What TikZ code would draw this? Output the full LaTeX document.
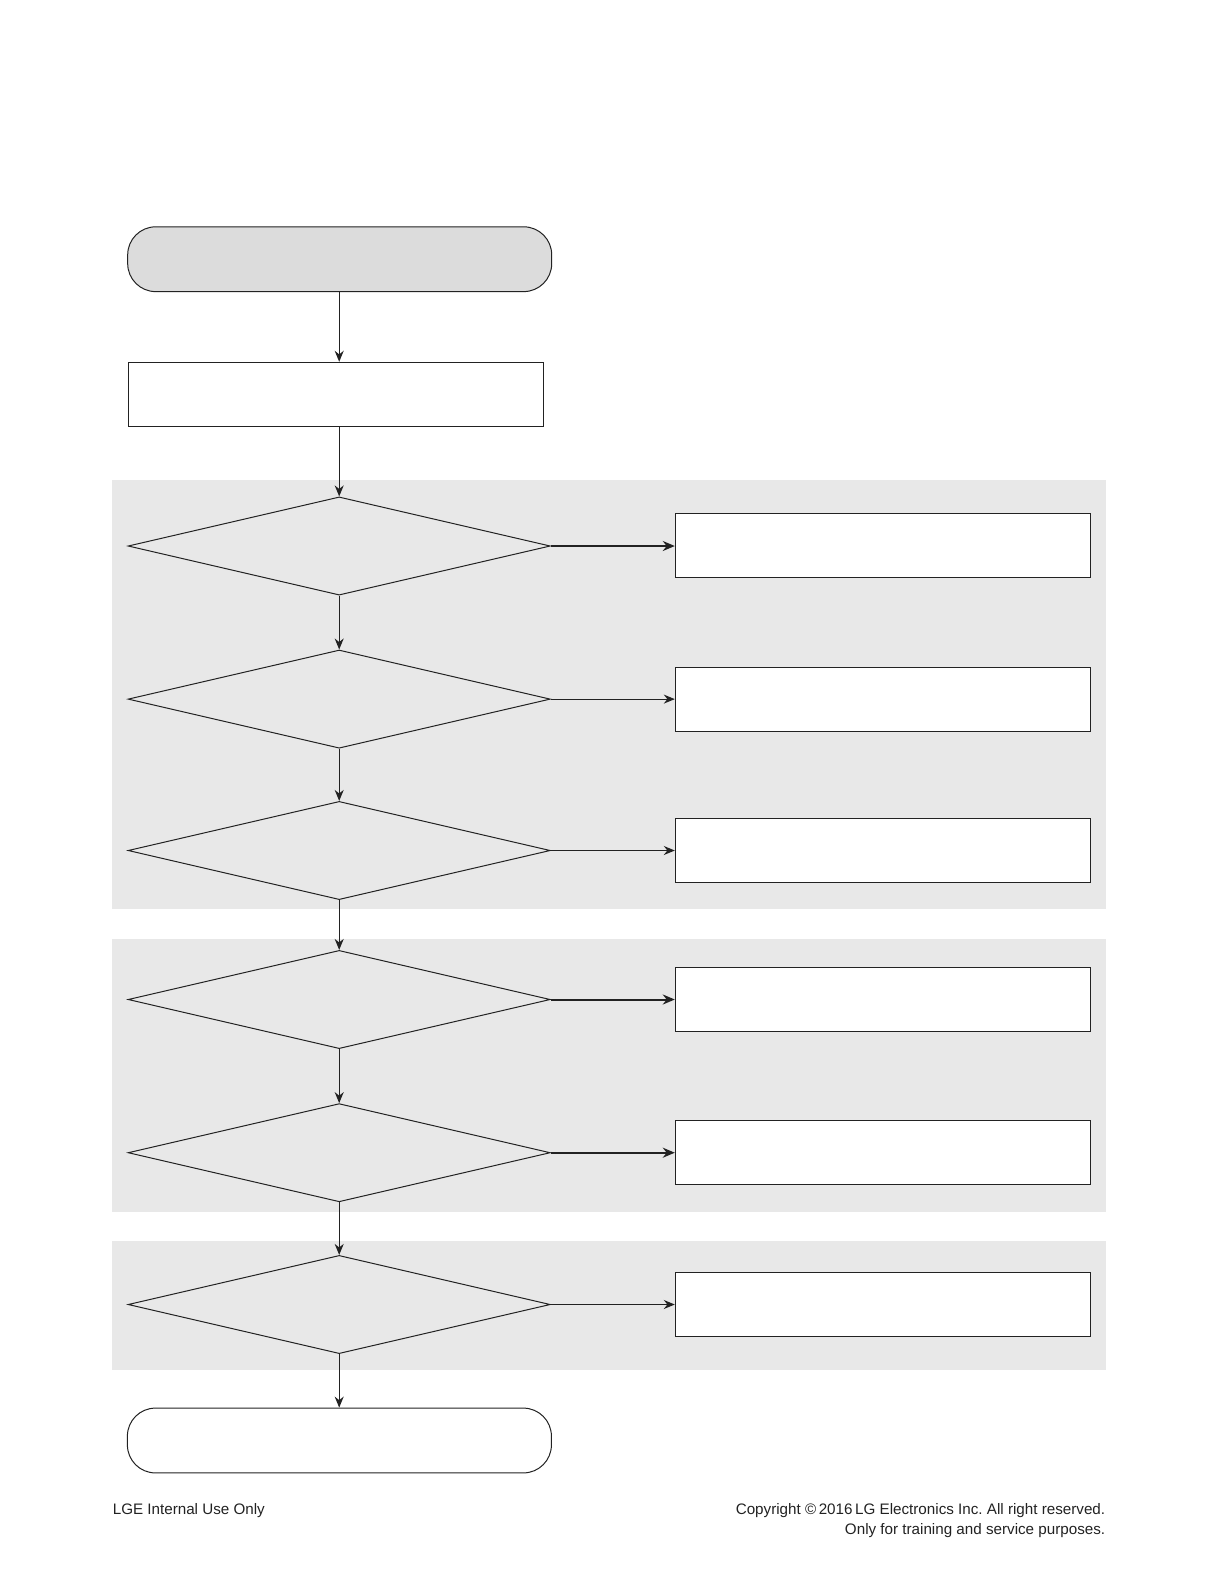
\documentclass[tikz,border=0pt]{standalone}
\usepackage{fontspec}
\setmainfont{Liberation Sans}
\usetikzlibrary{shapes.geometric,arrows.meta}
\definecolor{band}{HTML}{E8E8E8}
\definecolor{startfill}{HTML}{DCDCDC}
\definecolor{ink}{HTML}{222222}
\tikzset{
  box/.style={draw=ink,line width=0.5pt,fill=white,rectangle,inner sep=0pt,minimum width=207.5pt,minimum height=32.2pt},
  rbox/.style={draw=ink,line width=0.5pt,fill=white,rectangle,inner sep=0pt,minimum width=207.55pt,minimum height=32pt},
  term/.style={draw=ink,line width=0.5pt,rectangle,rounded corners=14pt,inner sep=0pt,minimum width=212pt,minimum height=32.4pt},
  dec/.style={draw=ink,line width=0.5pt,diamond,inner sep=0pt,minimum width=211.1pt,minimum height=49.1pt},
  arr/.style={draw=ink,line width=0.6pt,-{Stealth[length=5.5pt,width=4.5pt]}},
  arrthick/.style={draw=ink,line width=1pt,-{Stealth[length=6pt,width=5pt]}},
  foot/.style={inner sep=0pt,text=ink,font=\fontsize{7.6}{9}\selectfont}
}
\begin{document}
\frenchspacing
\begin{tikzpicture}[x=0.5pt,y=-0.5pt]
\useasboundingbox (0,0) rectangle (1219,1587);
% bands
\fill[band] (112.4,479.9) rectangle (1105.6,909.2);
\fill[band] (112.4,938.5) rectangle (1105.6,1211.9);
\fill[band] (112.4,1241.3) rectangle (1105.6,1369.9);
% terminals and process
\node[term,fill=startfill] (start) at (339.7,259.2) {};
\node[box] (proc) at (335.8,394.5) {};
\node[term,fill=white] (stop) at (339.4,1440.5) {};
% decisions
\node[dec] (d1) at (339.2,546.0) {};
\node[dec] (d2) at (339.2,699.1) {};
\node[dec] (d3) at (339.2,850.5) {};
\node[dec] (d4) at (339.2,999.5) {};
\node[dec] (d5) at (339.2,1152.7) {};
\node[dec] (d6) at (339.2,1304.5) {};
% right boxes
\node[rbox] (b1) at (882.85,545.7) {};
\node[rbox] (b2) at (882.85,699.1) {};
\node[rbox] (b3) at (882.85,850.0) {};
\node[rbox] (b4) at (882.85,999.3) {};
\node[rbox] (b5) at (882.85,1152.7) {};
\node[rbox] (b6) at (882.85,1304.5) {};
% vertical connectors
\draw[arr] (start.south -| d1.north) -- (proc.north -| d1.north);
\draw[arr] (proc.south -| d1.north) -- (d1.north);
\draw[arr] (d1.south) -- (d2.north);
\draw[arr] (d2.south) -- (d3.north);
\draw[arr] (d3.south) -- (d4.north);
\draw[arr] (d4.south) -- (d5.north);
\draw[arr] (d5.south) -- (d6.north);
\draw[arr] (d6.south) -- (stop.north -| d6.south);
% horizontal connectors
\draw[arrthick] (d1.east) -- (d1.east -| b1.west);
\draw[arr] (d2.east) -- (d2.east -| b2.west);
\draw[arr] (d3.east) -- (d3.east -| b3.west);
\draw[arrthick] (d4.east) -- (d4.east -| b4.west);
\draw[arrthick] (d5.east) -- (d5.east -| b5.west);
\draw[arr] (d6.east) -- (d6.east -| b6.west);
% footer
\node[foot,anchor=west] (lge) at (112.4,1511) {LGE Internal Use Only};
\node[foot,anchor=east] (copy1) at (1105.6,1511) {Copyright ©\,2016\,LG Electronics Inc. All right reserved.};
\node[foot,anchor=east] (copy2) at (1105.6,1530.4) {Only for training and service purposes.};
\end{tikzpicture}
\end{document}
